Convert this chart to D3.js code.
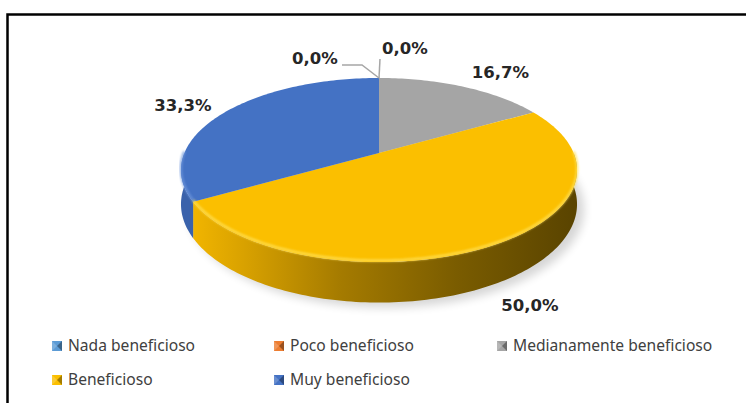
<!DOCTYPE html>
<html>
<head>
<meta charset="UTF-8">
<title>Pie 3D</title>
<script src="https://d3js.org/d3.v7.min.js"></script>
<style>
    body { margin: 0; background: #fff; }
    .lbl { font: bold 16.5px "DejaVu Sans", sans-serif; fill: #262626; }
    .legend text { font: 15.6px "Noto Sans", sans-serif; fill: #404040; }
</style>
</head>
<body>
<script>
// data
var categories = ["Nada beneficioso", "Poco beneficioso", "Medianamente beneficioso", "Beneficioso", "Muy beneficioso"];
var values = [0.0, 0.0, 16.7, 50.0, 33.3];
var labels = ["0,0%", "0,0%", "16,7%", "50,0%", "33,3%"];
var colors = ["#5b9bd5", "#ed7d31", "#a5a5a5", "#fbbf00", "#4472c4"];

var width = 746, height = 403;
// perspective disk: apex at (cx, cy)
var cx = 379, cy = 153, W = 194.6, S = 88.9, K = 0.185, D0 = 33;

var svg = d3.select("body").append("svg")
    .attr("width", width)
    .attr("height", height);

var defs = svg.append("defs");
defs.append("filter").attr("id", "blur").attr("x", "-20%").attr("y", "-20%")
    .attr("width", "140%").attr("height", "140%")
    .append("feGaussianBlur").attr("stdDeviation", 5);
defs.append("filter").attr("id", "soft")
    .append("feGaussianBlur").attr("stdDeviation", 1.2);

var side = defs.append("linearGradient").attr("id", "sideY")
    .attr("gradientUnits", "userSpaceOnUse")
    .attr("x1", cx - W).attr("x2", cx + W).attr("y1", 0).attr("y2", 0);
side.append("stop").attr("offset", 0).attr("stop-color", "#f5b800");
side.append("stop").attr("offset", 0.15).attr("stop-color", "#d9a200");
side.append("stop").attr("offset", 0.4).attr("stop-color", "#a57b00");
side.append("stop").attr("offset", 0.7).attr("stop-color", "#7a5c00");
side.append("stop").attr("offset", 1).attr("stop-color", "#5a4400");

// frame
svg.append("rect")
    .attr("x", 7.5).attr("y", 14.5)
    .attr("width", 760).attr("height", 420)
    .attr("fill", "none").attr("stroke", "#000").attr("stroke-width", 2.5);

var pie = d3.pie().sort(null).startAngle(0).endAngle(2 * Math.PI);
var arcs = pie(values);

// project angle a on the rim, h = 0 top face, 1 bottom of the wall
function proj(a, h) {
    var X = Math.sin(a), Z = Math.cos(a), w = 1 + K * Z;
    return [cx + W * X / w, cy - S * Z / w + (h || 0) * D0 / w];
}

function arcPts(a0, a1, h, dy) {
    var n = Math.max(2, Math.ceil((a1 - a0) / 0.02)), pts = [];
    for (var i = 0; i <= n; i++) {
        var p = proj(a0 + (a1 - a0) * i / n, h);
        pts.push([p[0], p[1] + (dy || 0)]);
    }
    return pts;
}

function join(pts) { return pts.map(function (p) { return p.join(","); }).join("L"); }

function topPath(d) {
    if (d.endAngle - d.startAngle <= 0) return null;
    return "M" + cx + "," + cy + "L" + join(arcPts(d.startAngle, d.endAngle, 0)) + "Z";
}

function front(d) {
    return [Math.max(d.startAngle, Math.PI / 2), Math.min(d.endAngle, 3 * Math.PI / 2)];
}

function sidePath(d) {
    var f = front(d);
    if (f[1] <= f[0]) return null;
    return "M" + join(arcPts(f[0], f[1], 0).concat(arcPts(f[0], f[1], 1).reverse())) + "Z";
}

// shadow
svg.append("path")
    .attr("d", "M" + join(arcPts(0, 2 * Math.PI, 1)) + "Z")
    .attr("transform", "translate(7,5)")
    .attr("fill", "#000").attr("opacity", 0.16)
    .attr("filter", "url(#blur)");

var sideColors = ["#4a86c0", "#c9682a", "#8c8c8c", "url(#sideY)", "#3a62ab"];

svg.append("g").selectAll("path.side")
    .data(arcs.filter(function (d) { return sidePath(d); }))
    .enter().append("path")
    .attr("class", "side")
    .attr("d", sidePath)
    .attr("fill", function (d) { return sideColors[d.index]; });

svg.append("g").selectAll("path.top")
    .data(arcs.filter(function (d) { return topPath(d); }))
    .enter().append("path")
    .attr("class", "top")
    .attr("d", topPath)
    .attr("fill", function (d) { return colors[d.index]; });

// bevel highlight along the front rim
svg.append("g").selectAll("path.rim")
    .data(arcs.filter(function (d) { return sidePath(d); }))
    .enter().append("path")
    .attr("d", function (d) {
        var f = front(d);
        return "M" + join(arcPts(f[0], f[1], 0, -1.5));
    })
    .attr("fill", "none")
    .attr("stroke", function (d) { return d.index === 3 ? "#ffe25a" : "#6f97dc"; })
    .attr("stroke-width", 2.5)
    .attr("opacity", 0.8)
    .attr("filter", "url(#soft)");

// labels (anchored on an enlarged ellipse around the pie)
var lcx = 379, lcy = 168, lrx = 197 * 1.15, lry = 90 * 1.3, ldepth = 38;
var labelNudge = [[-64, 7], [26, -3], [8, 5], [38, -2], [0, -4]];
svg.append("g").selectAll("text")
    .data(arcs)
    .enter().append("text")
    .attr("class", "lbl")
    .attr("text-anchor", "middle")
    .attr("x", function (d) {
        var m = (d.startAngle + d.endAngle) / 2;
        return lcx + lrx * Math.sin(m) + labelNudge[d.index][0];
    })
    .attr("y", function (d) {
        var m = (d.startAngle + d.endAngle) / 2;
        var fr = Math.cos(m) < 0 ? ldepth : 0;
        return lcy - lry * Math.cos(m) + fr + labelNudge[d.index][1] + 6;
    })
    .text(function (d) { return labels[d.index]; });

// leader lines for the empty slices
var p0 = proj(arcs[0].startAngle, 0);
var lead = svg.append("g").attr("fill", "none").attr("stroke", "#a6a6a6").attr("stroke-width", 1.5);
lead.append("path").attr("d", d3.line()([p0, [p0[0] - 17, p0[1] - 13], [p0[0] - 37, p0[1] - 13]]));
lead.append("path").attr("d", d3.line()([p0, [p0[0] + 1, p0[1] - 19]]));

// legend
var legendPos = [[52, 346], [274, 346], [497, 346], [52, 380], [274, 380]];
var lg = svg.append("g").attr("class", "legend").selectAll("g")
    .data(categories)
    .enter().append("g")
    .attr("transform", function (d, i) { return "translate(" + legendPos[i][0] + "," + legendPos[i][1] + ")"; });

lg.append("rect")
    .attr("x", 0).attr("y", -5).attr("width", 10).attr("height", 10)
    .attr("fill", function (d, i) { return colors[i]; });
lg.append("path")
    .attr("d", "M10,-5L5,0L10,5Z")
    .attr("fill", "#000").attr("opacity", 0.35);
lg.append("path")
    .attr("d", "M0,-5L5,0L0,5Z")
    .attr("fill", "#fff").attr("opacity", 0.2);
lg.append("text")
    .attr("x", 16).attr("y", 0).attr("dy", "0.35em")
    .text(function (d) { return d; });
</script>
</body>
</html>
